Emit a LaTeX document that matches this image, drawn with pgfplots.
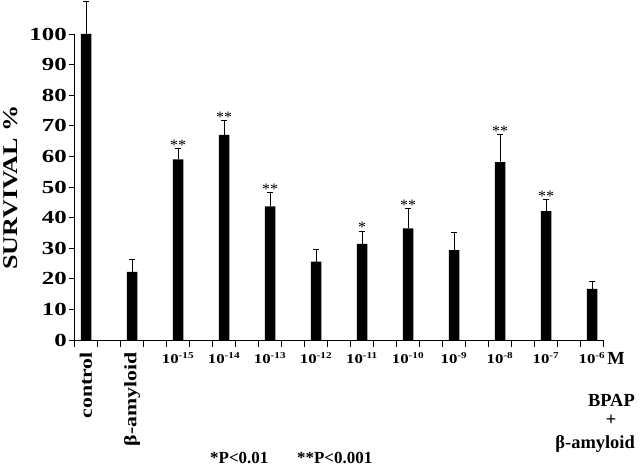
\documentclass[border=0pt]{standalone}
\usepackage{fontspec}
\setmainfont{Liberation Serif}
\newfontfamily\wide[FakeStretch=1.25]{Liberation Serif}
\newfontfamily\digits[FakeStretch=1.35]{Liberation Serif}
\usepackage{graphicx}
\usepackage{pgfplots}
\usepackage{pgfplotstable}
\pgfplotsset{compat=1.18}

% survival (%) with upper error
\pgfplotstableread{
x y err
0 100 10.8
1 22.3 4.1
2 59.0 3.5
3 67.0 4.7
4 43.7 4.4
5 25.6 3.9
6 31.4 4.2
7 36.5 6.5
8 29.4 5.8
9 58.1 9.1
10 42.1 3.9
11 16.7 2.4
}\survival

% significance marks, at the top of each error bar
\pgfplotstableread{
x y label
2 62.5 **
3 71.7 **
4 48.1 **
6 35.6 *
7 43.0 **
9 67.2 **
10 46.0 **
}\stars

\newcommand{\rot}[1]{\rotatebox{90}{\wide\bfseries\fontsize{17.5}{17.5}\selectfont #1}}
\newcommand{\conc}[1]{10\textsuperscript{\fontsize{9}{9}\selectfont #1}}

\begin{document}
\begin{tikzpicture}
\path[use as bounding box] (-74.5bp,-128bp) rectangle (565.5bp,340bp);
\begin{axis}[
    scale only axis,
    width=529bp, height=306bp,
    xmin=-0.25, xmax=11.25,
    ymin=0, ymax=100,
    axis lines=left,
    axis line style={-, line width=0.8pt},
    clip=false,
    tick align=outside,
    major tick length=6bp,
    minor tick length=7bp,
    tick style={line width=0.8pt, black},
    xtick={0,...,11},
    major x tick style={draw=none},
    minor xtick={-0.25,0.25,...,11.3},
    xticklabels={\rot{control}, \rot{β-amyloid},
        \conc{-15}, \conc{-14}, \conc{-13}, \conc{-12}, \conc{-11},
        \conc{-10}, \conc{-9}, \conc{-8}, \conc{-7}, \conc{-6}},
    xticklabel style={anchor=north, inner sep=0pt, yshift=-6bp,
        font=\wide\bfseries\fontsize{13.5}{13.5}\selectfont},
    ytick={0,10,...,100},
    /pgf/number format/assume math mode=true,
    yticklabel style={anchor=east, inner sep=0pt, xshift=-1.5bp,
        font=\digits\bfseries\fontsize{18.5}{18.5}\selectfont},
]
\addplot[ybar, bar width=10.5bp, fill=black, draw=none,
    error bars/.cd, y dir=plus, y explicit,
    error bar style={line width=0.8pt, black},
    error mark options={rotate=90, line width=0.8pt, mark size=2.6bp, black}]
    table[x=x, y=y, y error=err] {\survival};
\addplot[draw=none, mark=none, nodes near coords, point meta=explicit symbolic,
    every node near coord/.append style={anchor=south, inner sep=0pt, yshift=-2bp,
        font=\fontsize{16}{16}\selectfont}]
    table[x=x, y=y, meta=label] {\stars};
\end{axis}
\node[rotate=90, font=\wide\bfseries\fontsize{21}{21}\selectfont] at (-63.5bp,152.5bp) {SURVIVAL \%};
\node[font=\bfseries\fontsize{18.5}{18.5}\selectfont] at (541.5bp,-18bp) {M};
\node[anchor=base east, inner sep=0pt, font=\bfseries\fontsize{18.5}{18.5}\selectfont] at (560.5bp,-66bp) {BPAP};
\node[font=\bfseries\fontsize{18.5}{18.5}\selectfont] at (536.5bp,-80.5bp) {+};
\node[anchor=base east, inner sep=0pt, font=\bfseries\fontsize{18.5}{18.5}\selectfont] at (560.5bp,-108bp) {β-amyloid};
\node[anchor=base west, inner sep=0pt, font=\bfseries\fontsize{17}{17}\selectfont] at (135.5bp,-123.5bp) {*P<0.01};
\node[anchor=base west, inner sep=0pt, font=\bfseries\fontsize{17}{17}\selectfont] at (222.5bp,-123.5bp) {**P<0.001};
\end{tikzpicture}
\end{document}
